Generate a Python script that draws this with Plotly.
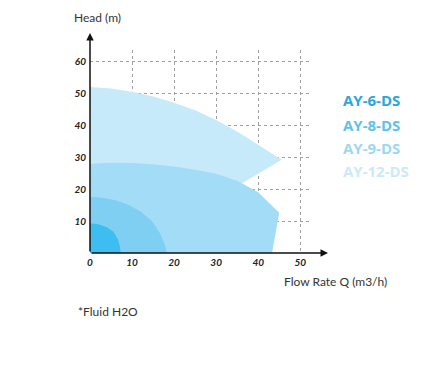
import plotly.graph_objects as go

# ---- data ----
series_names = ["AY-12-DS", "AY-9-DS", "AY-8-DS", "AY-6-DS"]

ay12_q = [0, 0, 5, 10, 15, 20, 25, 30, 35, 40, 45.6, 36.1, 36.1]
ay12_h = [0, 52, 51.5, 50.5, 49, 47.1, 44.7, 41.7, 38.1, 33.9, 29.2, 21.8, 0]

ay9_q = [0, 0, 5, 10, 15, 20, 25, 30, 35, 40, 45, 43.3]
ay9_h = [0, 28, 28.3, 28.2, 27.8, 27.1, 26.1, 24.8, 22.6, 19.0, 12.6, 0]

ay8_q = [0, 0, 3, 6, 9, 12, 14.7, 16.5, 17.7, 18.3]
ay8_h = [0, 17.6, 17.3, 16.5, 15.2, 13, 10, 6.5, 3, 0]

ay6_q = [0, 0, 2, 4, 5.5, 6.6, 7.1, 7.3]
ay6_h = [0, 9.3, 9.0, 8.1, 6.7, 4.5, 2, 0]

x_ticks = [0, 10, 20, 30, 40, 50]
y_ticks = [10, 20, 30, 40, 50, 60]

fill_colors = ["#c7eafa", "#a3dcf6", "#7fcff3", "#3dbdf0"]
legend_colors = ["#cbe9f7", "#9dd7f1", "#5fc2ea", "#2ba7dd"]

# ---- layout geometry (pixels, page coords; body has 8px margin) ----
OFF = 8
W, H = 448 - 2 * OFF, 377 - 2 * OFF
L, R, T, B = 90 - OFF, 312 - OFF, 50 - OFF, 253 - OFF


def px(xp):
    return (xp - OFF - L) / (R - L)


def py(yp):
    return (B - (yp - OFF)) / (B - T)


fig = go.Figure()
for q, h, c in zip([ay12_q, ay9_q, ay8_q, ay6_q], [ay12_h, ay9_h, ay8_h, ay6_h], fill_colors):
    fig.add_trace(go.Scatter(x=q, y=h, mode="lines", fill="toself", fillcolor=c,
                             line=dict(width=0, color=c), hoverinfo="skip", showlegend=False))

annotations = []
# axis arrows
annotations.append(dict(xref="paper", yref="paper", x=0, y=py(33), ax=0, ay=253 - 33,
                        text="", showarrow=True,
                        arrowhead=2, arrowsize=1, arrowwidth=1.5, arrowcolor="#111"))
annotations.append(dict(xref="paper", yref="paper", x=px(328), y=0, ax=-(328 - 90), ay=0,
                        text="", showarrow=True,
                        arrowhead=2, arrowsize=1, arrowwidth=1.5, arrowcolor="#111"))

leg_y = [171, 148, 125, 100]
for name, col, yy in zip(series_names, legend_colors, leg_y):
    annotations.append(dict(xref="paper", yref="paper", x=px(341), y=py(yy), xanchor="left",
                            yanchor="middle", text="<b>%s</b>" % name, showarrow=False,
                            font=dict(family="Open Sans", size=15, color=col)))

annotations.append(dict(xref="paper", yref="paper", x=px(72), y=py(18), xanchor="left",
                        yanchor="middle", text="Head (m)", showarrow=False,
                        font=dict(family="Lato", size=12, color="#333")))
annotations.append(dict(xref="paper", yref="paper", x=px(282), y=py(281), xanchor="left",
                        yanchor="middle", text="Flow Rate Q (m3/h)", showarrow=False,
                        font=dict(family="Lato", size=12, color="#333")))
annotations.append(dict(xref="paper", yref="paper", x=px(76), y=py(311), xanchor="left",
                        yanchor="middle", text="*Fluid H2O", showarrow=False,
                        font=dict(family="Lato", size=12, color="#333")))

fig.update_layout(
    width=W, height=H,
    margin=dict(l=L, r=W - R, t=T, b=H - B, pad=0),
    paper_bgcolor="white", plot_bgcolor="white",
    annotations=annotations,
    xaxis=dict(range=[0, 52.8], tickvals=x_ticks, ticktext=["<b><i>%d</i></b>" % v for v in x_ticks],
               showgrid=True, gridcolor="#a0a0a0", griddash="dot", gridwidth=1,
               zeroline=False, showline=False, ticks="", ticklabelstandoff=2,
               tickfont=dict(family="Lato", size=10, color="#222"), fixedrange=True),
    yaxis=dict(range=[0, 63.6], tickvals=y_ticks, ticktext=["<b><i>%d</i></b>" % v for v in y_ticks],
               showgrid=True, gridcolor="#a0a0a0", griddash="dot", gridwidth=1,
               zeroline=False, showline=False, ticks="", ticklabelstandoff=3,
               tickfont=dict(family="Lato", size=10, color="#222"), fixedrange=True),
)

fig.write_html("out.html")
